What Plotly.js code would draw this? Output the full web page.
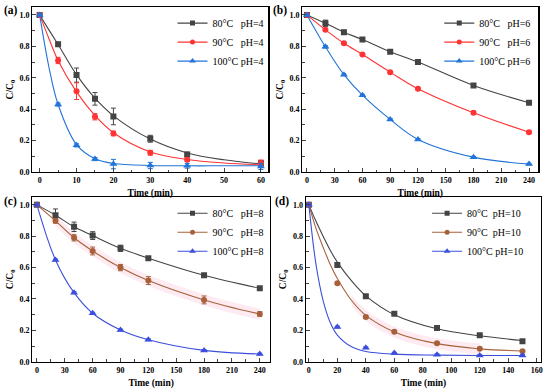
<!DOCTYPE html>
<html><head><meta charset="utf-8">
<script src="https://cdn.plot.ly/plotly-3.0.1.min.js"></script>
<style>html,body{margin:0;padding:0;background:#fff}#chart{width:550px;height:392px}</style>
</head><body><div id="chart"></div><script>
// ---------- Panel (a) pH=4 ----------
const xA = [0, 5, 10, 15, 20, 30, 40, 60];
const a80 = [1.0, 0.814, 0.617, 0.466, 0.354, 0.212, 0.112, 0.057];
const a80err = [0.005, 0.012, 0.045, 0.04, 0.053, 0.022, 0.015, 0.015];
const a90 = [1.0, 0.71, 0.515, 0.352, 0.246, 0.123, 0.078, 0.057];
const a90err = [0.005, 0.02, 0.053, 0.02, 0.015, 0.015, 0.01, 0.02];
const a100 = [1.0, 0.43, 0.17, 0.083, 0.051, 0.042, 0.04, 0.036];
const a100err = [0.005, 0.01, 0.01, 0.01, 0.03, 0.02, 0.015, 0.02];
const fxA = [0, 2.5, 5, 10, 15, 20, 30, 40, 50, 60];
const fa80 = [1.0, 0.905, 0.812, 0.62, 0.47, 0.358, 0.21, 0.122, 0.078, 0.052];
const fa90 = [1.0, 0.85, 0.71, 0.51, 0.36, 0.25, 0.128, 0.08, 0.058, 0.047];
const fa100 = [1.0, 0.67, 0.43, 0.175, 0.085, 0.055, 0.042, 0.04, 0.04, 0.04];

// ---------- Panel (b) pH=6 ----------
const xB = [0, 20, 40, 60, 90, 120, 180, 240];
const b80 = [1.0, 0.947, 0.89, 0.843, 0.765, 0.70, 0.551, 0.441];
const b80err = [0.005, 0.02, 0.012, 0.01, 0.006, 0.005, 0.006, 0.006];
const b90 = [1.0, 0.905, 0.82, 0.748, 0.636, 0.53, 0.377, 0.254];
const b90err = [0.005, 0.008, 0.006, 0.006, 0.006, 0.006, 0.01, 0.008];
const b100 = [1.0, 0.797, 0.62, 0.489, 0.335, 0.208, 0.095, 0.051];
const b100err = [0.005, 0.008, 0.006, 0.006, 0.006, 0.006, 0.005, 0.005];

// ---------- Panel (c) pH=8 ----------
const xC = [0, 20, 40, 60, 90, 120, 180, 240];
const c80 = [1.0, 0.934, 0.86, 0.804, 0.723, 0.66, 0.551, 0.468];
const c80err = [0.005, 0.04, 0.03, 0.025, 0.02, 0.01, 0.008, 0.008];
const c90 = [1.0, 0.898, 0.79, 0.706, 0.60, 0.517, 0.394, 0.304];
const c90err = [0.005, 0.015, 0.02, 0.025, 0.02, 0.025, 0.025, 0.015];
const c100 = [1.0, 0.649, 0.44, 0.309, 0.202, 0.14, 0.072, 0.049];
const c100err = [0.005, 0.006, 0.006, 0.006, 0.006, 0.006, 0.005, 0.005];

// ---------- Panel (d) pH=10 ----------
const xD = [0, 20, 40, 60, 90, 120, 150];
const d80 = [1.0, 0.617, 0.417, 0.306, 0.215, 0.168, 0.13];
const d80err = [0.005, 0.015, 0.008, 0.006, 0.006, 0.006, 0.006];
const d90 = [1.0, 0.50, 0.285, 0.191, 0.117, 0.083, 0.066];
const d90err = [0.005, 0.008, 0.008, 0.006, 0.006, 0.006, 0.006];
const d100 = [1.0, 0.221, 0.089, 0.055, 0.045, 0.04, 0.04];
const d100err = [0.005, 0.006, 0.006, 0.005, 0.005, 0.005, 0.005];
const fxD = [0, 5, 10, 15, 20, 30, 40, 60, 90, 120, 150];
const fd80 = [1.0, 0.895, 0.8, 0.71, 0.635, 0.515, 0.42, 0.3, 0.21, 0.165, 0.135];
const fd90 = [1.0, 0.85, 0.73, 0.62, 0.53, 0.39, 0.295, 0.19, 0.115, 0.082, 0.068];
const fd100 = [1.0, 0.62, 0.39, 0.25, 0.17, 0.095, 0.065, 0.048, 0.042, 0.04, 0.04];

const names4 = ['80\u00b0C\u00a0\u00a0\u00a0pH=4', '90\u00b0C\u00a0\u00a0\u00a0pH=4', '100\u00b0C\u00a0pH=4'];
const names6 = ['80\u00b0C\u00a0\u00a0\u00a0pH=6', '90\u00b0C\u00a0\u00a0\u00a0pH=6', '100\u00b0C\u00a0pH=6'];
const names8 = ['80\u00b0C\u00a0\u00a0\u00a0pH=8', '90\u00b0C\u00a0\u00a0\u00a0pH=8', '100\u00b0C\u00a0pH=8'];
const names10 = ['80\u00b0C\u00a0\u00a0pH=10', '90\u00b0C\u00a0\u00a0pH=10', '100\u00b0C\u00a0pH=10'];

const GRAY = '#444444', RED = '#ff3333', BLUE = '#2174d8', BROWN = '#a8603a', VIOLET = '#3b4fdc';
const FONT = 'Liberation Serif, Times New Roman, serif';

const traces = [];
function series(xs, ys, errs, fx, fy, color, symbol, size, name, xa, ya, leg) {
  traces.push({x: fx, y: fy, xaxis: xa, yaxis: ya, mode: 'lines', type: 'scatter',
    line: {color: color, width: 1.1, shape: 'spline', smoothing: 1}, showlegend: false, hoverinfo: 'skip'});
  traces.push({x: xs, y: ys, xaxis: xa, yaxis: ya, mode: 'markers', type: 'scatter',
    marker: {color: color, symbol: symbol, size: size},
    error_y: {type: 'data', array: errs, visible: true, color: color, thickness: 1, width: 2.5},
    showlegend: false});
  traces.push({x: [null], y: [null], xaxis: xa, yaxis: ya, mode: 'lines+markers', type: 'scatter',
    line: {color: color, width: 1.1}, marker: {color: color, symbol: symbol, size: size - 1},
    name: name, legend: leg, showlegend: true});
}
function band(fx, fy, w, xa, ya) {
  const lo = fy.map(v => v - w), hi = fy.map(v => v + w);
  traces.push({x: fx, y: lo, xaxis: xa, yaxis: ya, mode: 'lines', line: {width: 0, shape: 'spline'}, showlegend: false, hoverinfo: 'skip'});
  traces.push({x: fx, y: hi, xaxis: xa, yaxis: ya, mode: 'lines', line: {width: 0, shape: 'spline'}, fill: 'tonexty',
    fillcolor: 'rgba(250,190,210,0.3)', showlegend: false, hoverinfo: 'skip'});
}

// (a)
series(xA, a80, a80err, fxA, fa80, GRAY, 'square', 6, names4[0], 'x', 'y', 'legend');
series(xA, a90, a90err, fxA, fa90, RED, 'circle', 6, names4[1], 'x', 'y', 'legend');
series(xA, a100, a100err, fxA, fa100, BLUE, 'triangle-up', 7, names4[2], 'x', 'y', 'legend');
// (b)
series(xB, b80, b80err, xB, b80, GRAY, 'square', 6, names6[0], 'x2', 'y2', 'legend2');
series(xB, b90, b90err, xB, b90, RED, 'circle', 6, names6[1], 'x2', 'y2', 'legend2');
series(xB, b100, b100err, xB, b100, BLUE, 'triangle-up', 7, names6[2], 'x2', 'y2', 'legend2');
// (c)
band(xC.slice(1), c90.slice(1), 0.035, 'x3', 'y3');
series(xC, c80, c80err, xC, c80, GRAY, 'square', 6, names8[0], 'x3', 'y3', 'legend3');
series(xC, c90, c90err, xC, c90, BROWN, 'circle', 6, names8[1], 'x3', 'y3', 'legend3');
series(xC, c100, c100err, xC, c100, VIOLET, 'triangle-up', 7, names8[2], 'x3', 'y3', 'legend3');
// (d)
band(fxD.slice(5, 10), fd90.slice(5, 10), 0.035, 'x4', 'y4');
series(xD, d80, d80err, fxD, fd80, GRAY, 'square', 6, names10[0], 'x4', 'y4', 'legend4');
series(xD, d90, d90err, fxD, fd90, BROWN, 'circle', 6, names10[1], 'x4', 'y4', 'legend4');
series(xD, d100, d100err, fxD, fd100, VIOLET, 'triangle-up', 7, names10[2], 'x4', 'y4', 'legend4');

const tickF = {family: FONT, size: 8, color: '#000', weight: 'bold'};
const titleF = {family: FONT, size: 9.5, color: '#000', weight: 'bold'};
function xax(dom, range, dtick, anchor) {
  return {domain: dom, range: range, anchor: anchor, tick0: 0, dtick: dtick, ticks: 'inside', ticklen: 4, tickwidth: 1,
    showline: true, linewidth: 1.3, linecolor: '#000', mirror: true, showgrid: false, zeroline: false,
    tickfont: tickF, minor: {dtick: dtick / 2, tick0: 0, ticks: 'inside', ticklen: 2.5, tickwidth: 1},
    title: {text: 'Time (min)', font: titleF, standoff: 5}, automargin: false};
}
function yax(dom, anchor) {
  return {domain: dom, range: [0, 1.05], anchor: anchor, tick0: 0, dtick: 0.2, tickformat: '.1f', ticks: 'inside', ticklen: 4, tickwidth: 1,
    showline: true, linewidth: 1.3, linecolor: '#000', mirror: true, showgrid: false, zeroline: false,
    tickfont: tickF, minor: {dtick: 0.1, tick0: 0, ticks: 'inside', ticklen: 2.5, tickwidth: 1},
    title: {text: 'C/C<sub>0</sub>', font: titleF, standoff: 4}, automargin: false};
}
function leg(x, y) {
  return {x: x, y: y, xanchor: 'right', yanchor: 'top', xref: 'paper', yref: 'paper', bgcolor: 'rgba(0,0,0,0)',
    font: {family: FONT, size: 10, color: '#000'}, tracegroupgap: 0, itemwidth: 30, traceorder: 'normal'};
}
const yTop = [0.561, 0.982], yBot = [0.0773, 0.4974];
const lab = {family: FONT, size: 11.5, weight: 'bold', color: '#000'};
const layout = {
  width: 550, height: 392, margin: {l: 0, r: 0, t: 0, b: 0}, paper_bgcolor: '#fff', plot_bgcolor: '#fff',
  showlegend: true, font: {family: FONT},
  xaxis: xax([0.0587, 0.4878], [-2, 62], 10, 'y'),
  yaxis: yax(yTop, 'x'),
  xaxis2: xax([0.5496, 0.9787], [-5, 250], 30, 'y2'),
  yaxis2: yax(yTop, 'x2'),
  xaxis3: xax([0.0587, 0.4909], [-5, 251], 30, 'y3'),
  yaxis3: yax(yBot, 'x3'),
  xaxis4: xax([0.5564, 0.9836], [-2, 163], 20, 'y4'),
  yaxis4: yax(yBot, 'x4'),
  legend: leg(0.49, 0.978),
  legend2: leg(0.975, 0.978),
  legend3: leg(0.49, 0.493),
  legend4: leg(0.962, 0.493),
  annotations: [
    {text: '(a)', x: 0.004, y: 0.972, xref: 'paper', yref: 'paper', xanchor: 'left', yanchor: 'middle', showarrow: false, font: lab},
    {text: '(b)', x: 0.493, y: 0.972, xref: 'paper', yref: 'paper', xanchor: 'left', yanchor: 'middle', showarrow: false, font: lab},
    {text: '(c)', x: 0.004, y: 0.485, xref: 'paper', yref: 'paper', xanchor: 'left', yanchor: 'middle', showarrow: false, font: lab},
    {text: '(d)', x: 0.497, y: 0.485, xref: 'paper', yref: 'paper', xanchor: 'left', yanchor: 'middle', showarrow: false, font: lab}
  ]
};
Plotly.newPlot('chart', traces, layout, {displayModeBar: false, staticPlot: true});
</script></body></html>
